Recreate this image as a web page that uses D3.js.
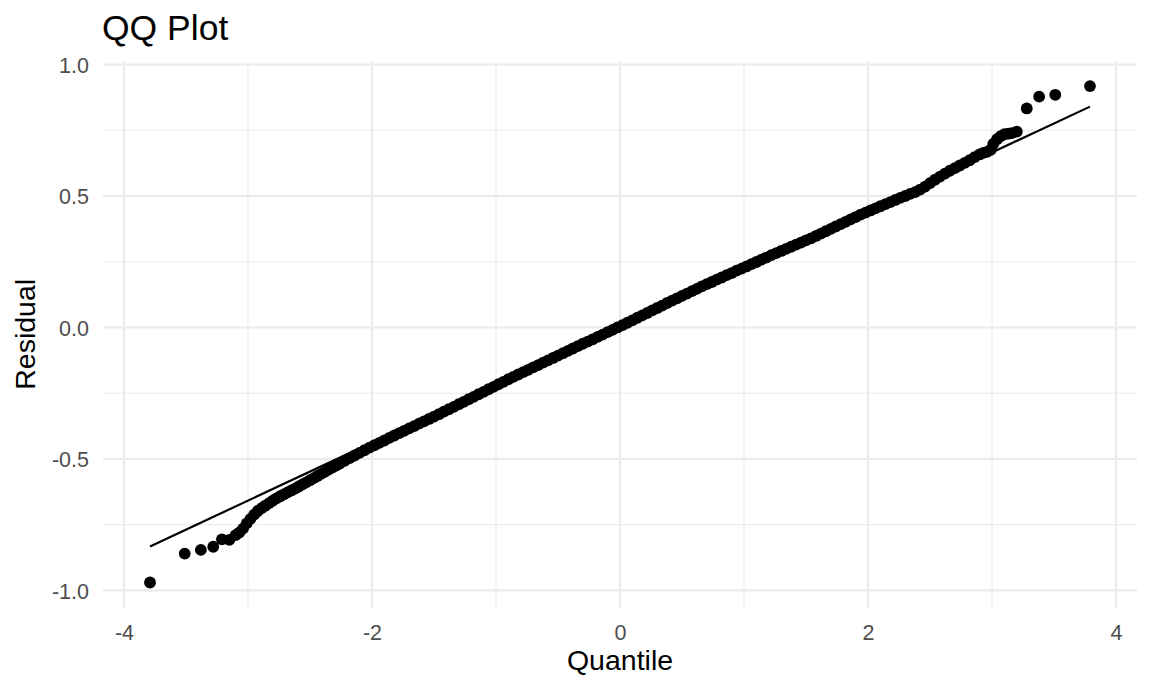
<!DOCTYPE html>
<html>
<head>
<meta charset="utf-8">
<script src="https://cdn.jsdelivr.net/npm/d3@7"></script>
<style>
  html, body { margin: 0; padding: 0; background: #ffffff; }
  svg { display: block; font-family: "Liberation Sans", Arial, Helvetica, sans-serif; }
</style>
</head>
<body>
<svg id="chart" width="1152" height="691"></svg>
<script>
// ---- data ----
const chartTitle = "QQ Plot";
const xTitle = "Quantile";
const yTitle = "Residual";

const xTicks = [-4, -2, 0, 2, 4];
const xMinor = [-3, -1, 1, 3];
const yTicks = [-1.0, -0.5, 0.0, 0.5, 1.0];
const yMinor = [-0.75, -0.25, 0.25, 0.75];

// sparse tail points
const tailQuantile = [-3.79, -3.51, -3.38, -3.28, -3.21, -3.15, 3.28, 3.38, 3.51, 3.79];
const tailResidual = [-0.970, -0.860, -0.846, -0.834, -0.806, -0.808, 0.833, 0.878, 0.885, 0.918];

// dense body of the sample (read along the band)
const bodyQuantile = [
  -3.10,-3.07,-3.04,-3.01,-2.98,-2.95,-2.92,-2.89,-2.86,-2.83,-2.80,-2.77,-2.74,-2.71,-2.68,-2.65,
  -2.62,-2.59,-2.56,-2.53,-2.50,-2.47,-2.44,-2.41,-2.38,-2.35,-2.32,-2.29,-2.26,-2.22,-2.18,-2.14,
  -2.10,-2.06,-2.02,-1.98,-1.94,-1.90,-1.86,-1.82,-1.78,-1.74,-1.70,-1.66,-1.62,-1.58,-1.54,-1.50,
  -1.46,-1.42,-1.38,-1.34,-1.30,-1.26,-1.22,-1.18,-1.14,-1.10,-1.06,-1.02,-0.98,-0.94,-0.90,-0.86,
  -0.82,-0.78,-0.74,-0.70,-0.66,-0.62,-0.58,-0.54,-0.50,-0.46,-0.42,-0.38,-0.34,-0.30,-0.26,-0.22,
  -0.18,-0.14,-0.10,-0.06,-0.02,0.02,0.06,0.10,0.14,0.18,0.22,0.26,0.30,0.34,0.38,0.42,
  0.46,0.50,0.54,0.58,0.62,0.66,0.70,0.74,0.78,0.82,0.86,0.90,0.94,0.98,1.02,1.06,
  1.10,1.14,1.18,1.22,1.26,1.30,1.34,1.38,1.42,1.46,1.50,1.54,1.58,1.62,1.66,1.70,
  1.74,1.78,1.82,1.86,1.90,1.94,1.98,2.02,2.06,2.10,2.14,2.18,2.22,2.26,2.30,2.34,
  2.38,2.42,2.46,2.50,2.54,2.58,2.62,2.66,2.70,2.74,2.78,2.82,2.86,2.90,2.93,2.96,
  2.99,3.01,3.04,3.07,3.10,3.13,3.16,3.20
];
const bodyResidual = [
  -0.790,-0.780,-0.765,-0.745,-0.728,-0.712,-0.698,-0.687,-0.678,-0.668,-0.659,-0.650,-0.642,-0.635,-0.627,-0.620,
  -0.613,-0.605,-0.597,-0.589,-0.581,-0.573,-0.565,-0.557,-0.549,-0.541,-0.533,-0.525,-0.518,-0.507,-0.497,-0.487,
  -0.477,-0.467,-0.457,-0.448,-0.439,-0.430,-0.420,-0.411,-0.402,-0.393,-0.384,-0.375,-0.366,-0.357,-0.348,-0.339,
  -0.330,-0.320,-0.311,-0.302,-0.292,-0.283,-0.273,-0.264,-0.254,-0.245,-0.235,-0.226,-0.216,-0.207,-0.197,-0.188,
  -0.179,-0.170,-0.161,-0.152,-0.143,-0.134,-0.125,-0.116,-0.107,-0.098,-0.089,-0.080,-0.071,-0.062,-0.054,-0.045,
  -0.036,-0.027,-0.018,-0.009,0.000,0.009,0.018,0.027,0.037,0.046,0.055,0.065,0.074,0.083,0.093,0.102,
  0.111,0.120,0.129,0.138,0.147,0.156,0.165,0.173,0.182,0.190,0.199,0.207,0.216,0.224,0.232,0.241,
  0.249,0.258,0.266,0.275,0.283,0.291,0.299,0.307,0.315,0.323,0.331,0.339,0.348,0.357,0.366,0.375,
  0.384,0.393,0.402,0.411,0.420,0.429,0.437,0.445,0.453,0.461,0.469,0.477,0.485,0.493,0.500,0.508,
  0.515,0.524,0.536,0.549,0.562,0.574,0.585,0.596,0.606,0.616,0.626,0.636,0.648,0.658,0.664,0.668,
  0.676,0.698,0.716,0.728,0.735,0.737,0.739,0.745
];

// reference line end points
const lineQuantile = [-3.79, 3.79];
const lineResidual = [-0.833, 0.840];

// ---- drawing ----
const svg = d3.select("#chart");
const panel = { left: 103, right: 1137, top: 61.3, bottom: 607.3 };
const hyphen = s => s.replace("\u2212", "-");

const allQ = tailQuantile.concat(bodyQuantile);
const allR = tailResidual.concat(bodyResidual);
const qExt = d3.extent(allQ), rExt = d3.extent(allR);
const qPad = (qExt[1] - qExt[0]) * 0.05, rPad = (rExt[1] - rExt[0]) * 0.05;

const x = d3.scaleLinear().domain([qExt[0] - qPad, qExt[1] + qPad]).range([panel.left, panel.right]);
const y = d3.scaleLinear().domain([rExt[0] - rPad, rExt[1] + rPad]).range([panel.bottom, panel.top]);

const grid = svg.append("g");
grid.selectAll("line.xmin").data(xMinor).join("line")
  .attr("x1", d => x(d)).attr("x2", d => x(d)).attr("y1", panel.top).attr("y2", panel.bottom)
  .attr("stroke", "#EBEBEB").attr("stroke-width", 1.1);
grid.selectAll("line.ymin").data(yMinor).join("line")
  .attr("y1", d => y(d)).attr("y2", d => y(d)).attr("x1", panel.left).attr("x2", panel.right)
  .attr("stroke", "#EBEBEB").attr("stroke-width", 1.1);
grid.selectAll("line.xmaj").data(xTicks).join("line")
  .attr("x1", d => x(d)).attr("x2", d => x(d)).attr("y1", panel.top).attr("y2", panel.bottom)
  .attr("stroke", "#EBEBEB").attr("stroke-width", 2.1);
grid.selectAll("line.ymaj").data(yTicks).join("line")
  .attr("y1", d => y(d)).attr("y2", d => y(d)).attr("x1", panel.left).attr("x2", panel.right)
  .attr("stroke", "#EBEBEB").attr("stroke-width", 2.1);

const xAxis = d3.axisBottom(x).tickValues(xTicks).tickSize(0).tickPadding(0)
  .tickFormat(d => hyphen(d3.format("d")(d)));
const gx = svg.append("g").attr("transform", `translate(0,${panel.bottom})`).call(xAxis);
gx.select(".domain").remove();
gx.selectAll("text").attr("fill", "#4D4D4D").attr("font-size", 21.5).attr("dy", null)
  .attr("y", 33).attr("font-family", "Liberation Sans, Arial, sans-serif");

const yAxis = d3.axisLeft(y).tickValues(yTicks).tickSize(0).tickPadding(0)
  .tickFormat(d => hyphen(d3.format(".1f")(d)));
const gy = svg.append("g").attr("transform", `translate(${panel.left},0)`).call(yAxis);
gy.select(".domain").remove();
gy.selectAll("text").attr("fill", "#4D4D4D").attr("font-size", 21.5).attr("x", -14)
  .attr("dy", "0.36em").attr("font-family", "Liberation Sans, Arial, sans-serif");

const pts = svg.append("g");
pts.selectAll("circle.body").data(bodyQuantile.map((q, i) => [q, bodyResidual[i]])).join("circle")
  .attr("cx", d => x(d[0])).attr("cy", d => y(d[1])).attr("r", 5.9).attr("fill", "#000");
pts.selectAll("circle.tail").data(tailQuantile.map((q, i) => [q, tailResidual[i]])).join("circle")
  .attr("cx", d => x(d[0])).attr("cy", d => y(d[1])).attr("r", 5.9).attr("fill", "#000");

const line = d3.line().x(d => x(d[0])).y(d => y(d[1]));
svg.append("path").datum(lineQuantile.map((q, i) => [q, lineResidual[i]]))
  .attr("d", line).attr("fill", "none").attr("stroke", "#000").attr("stroke-width", 2.2);

svg.append("text").attr("x", 102).attr("y", 40).attr("font-size", 35.5).attr("fill", "#000").text(chartTitle);
svg.append("text").attr("x", (panel.left + panel.right) / 2).attr("y", 670).attr("text-anchor", "middle")
  .attr("font-size", 28.5).attr("fill", "#000").text(xTitle);
svg.append("text").attr("transform", `translate(35,${(panel.top + panel.bottom) / 2}) rotate(-90)`)
  .attr("text-anchor", "middle").attr("font-size", 28.5).attr("fill", "#000").text(yTitle);
</script>
</body>
</html>
